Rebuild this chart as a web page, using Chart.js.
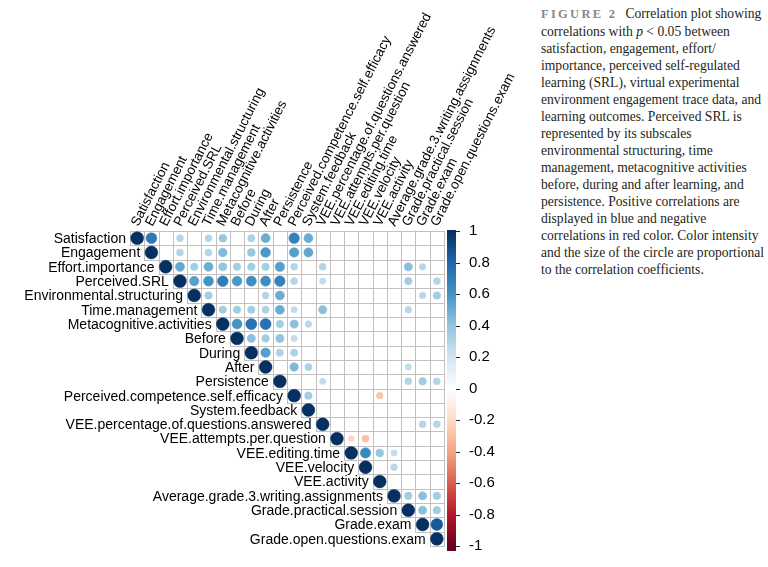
<!DOCTYPE html>
<html lang="en">
<head>
<meta charset="UTF-8">
<title>Correlation plot</title>
<script src="https://cdn.jsdelivr.net/npm/chart.js"></script>
<style>
  body { margin: 0; background: #fff; width: 768px; height: 567px; overflow: hidden; position: relative; }
  #chartBox { position: absolute; left: 0; top: 0; width: 530px; height: 567px; }
  .caption {
    position: absolute; left: 541px; top: 5px;
    font-family: "Liberation Serif", "Times New Roman", serif;
    font-size: 13.6px; line-height: 17px; color: #231f20; white-space: nowrap;
  }
  .fig { font-weight: bold; color: #87898c; letter-spacing: 2.3px; font-size: 12.5px; margin-right: 8px; }
</style>
</head>
<body>
<div id="chartBox"><canvas id="corrChart"></canvas></div>
<div class="caption">
  <span class="fig">FIGURE 2</span>Correlation plot showing<br>
  correlations with <i>p</i> &lt; 0.05 between<br>
  satisfaction, engagement, effort/<br>
  importance, perceived self-regulated<br>
  learning (SRL), virtual experimental<br>
  environment engagement trace data, and<br>
  learning outcomes. Perceived SRL is<br>
  represented by its subscales<br>
  environmental structuring, time<br>
  management, metacognitive activities<br>
  before, during and after learning, and<br>
  persistence. Positive correlations are<br>
  displayed in blue and negative<br>
  correlations in red color. Color intensity<br>
  and the size of the circle are proportional<br>
  to the correlation coefficients.
</div>
<script>
const variables = [
  "Satisfaction", "Engagement", "Effort.importance", "Perceived.SRL",
  "Environmental.structuring", "Time.management", "Metacognitive.activities",
  "Before", "During", "After", "Persistence", "Perceived.competence.self.efficacy",
  "System.feedback", "VEE.percentage.of.questions.answered", "VEE.attempts.per.question",
  "VEE.editing.time", "VEE.velocity", "VEE.activity", "Average.grade.3.writing.assignments",
  "Grade.practical.session", "Grade.exam", "Grade.open.questions.exam"
];

// upper triangle rows, one value per column; 0 = not significant (left blank)
const satisfaction   = [1, .72, 0, .3, 0, .3, .38, 0, .32, .5, 0, .68, .5, 0, 0, 0, 0, 0, 0, 0, 0, 0];
const engagement     = [0, 1, 0, .3, 0, .3, .45, 0, .38, .58, 0, .55, .52, 0, 0, 0, 0, 0, 0, 0, 0, 0];
const effort         = [0, 0, 1, .52, .35, .5, .4, .35, .35, .35, .55, .3, 0, .3, 0, 0, 0, 0, 0, .42, .28, 0];
const perceivedSRL   = [0, 0, 0, 1, .55, .6, .7, .58, .62, .62, .68, .3, 0, .25, 0, 0, 0, 0, 0, .35, 0, .3];
const envStructuring = [0, 0, 0, 0, 1, .35, 0, 0, 0, .3, .5, 0, 0, 0, 0, 0, 0, 0, 0, 0, .28, .35];
const timeManagement = [0, 0, 0, 0, 0, 1, .35, .35, .35, .32, .5, .25, 0, .42, 0, 0, 0, 0, 0, .28, 0, 0];
const metacognitive  = [0, 0, 0, 0, 0, 0, 1, .6, .75, .75, .35, .42, .28, 0, 0, 0, 0, 0, 0, 0, 0, 0];
const before         = [0, 0, 0, 0, 0, 0, 0, 1, .42, .35, .4, .25, 0, 0, 0, 0, 0, 0, 0, 0, 0, 0];
const during         = [0, 0, 0, 0, 0, 0, 0, 0, 1, .55, .32, .32, 0, 0, 0, 0, 0, 0, 0, 0, 0, 0];
const after          = [0, 0, 0, 0, 0, 0, 0, 0, 0, 1, 0, .45, .32, 0, 0, 0, 0, 0, 0, .25, 0, 0];
const persistence    = [0, 0, 0, 0, 0, 0, 0, 0, 0, 0, 1, 0, 0, .25, 0, 0, 0, 0, 0, .3, .35, .3];
const competence     = [0, 0, 0, 0, 0, 0, 0, 0, 0, 0, 0, 1, .35, 0, 0, 0, 0, -.28, 0, 0, 0, 0];
const systemFeedback = [0, 0, 0, 0, 0, 0, 0, 0, 0, 0, 0, 0, 1, 0, 0, 0, 0, 0, 0, 0, 0, 0];
const veePercentage  = [0, 0, 0, 0, 0, 0, 0, 0, 0, 0, 0, 0, 0, 1, 0, 0, 0, 0, 0, 0, .3, .3];
const veeAttempts    = [0, 0, 0, 0, 0, 0, 0, 0, 0, 0, 0, 0, 0, 0, 1, -.22, -.3, 0, 0, 0, 0, 0];
const veeEditing     = [0, 0, 0, 0, 0, 0, 0, 0, 0, 0, 0, 0, 0, 0, 0, 1, .65, .38, .25, 0, 0, 0];
const veeVelocity    = [0, 0, 0, 0, 0, 0, 0, 0, 0, 0, 0, 0, 0, 0, 0, 0, 1, 0, .28, 0, 0, 0];
const veeActivity    = [0, 0, 0, 0, 0, 0, 0, 0, 0, 0, 0, 0, 0, 0, 0, 0, 0, 1, 0, 0, 0, 0];
const avgGrade       = [0, 0, 0, 0, 0, 0, 0, 0, 0, 0, 0, 0, 0, 0, 0, 0, 0, 0, 1, .35, .42, .35];
const gradePractical = [0, 0, 0, 0, 0, 0, 0, 0, 0, 0, 0, 0, 0, 0, 0, 0, 0, 0, 0, 1, .42, .35];
const gradeExam      = [0, 0, 0, 0, 0, 0, 0, 0, 0, 0, 0, 0, 0, 0, 0, 0, 0, 0, 0, 0, 1, .85];
const gradeOpen      = [0, 0, 0, 0, 0, 0, 0, 0, 0, 0, 0, 0, 0, 0, 0, 0, 0, 0, 0, 0, 0, 1];

const colorbarTicks = [1, 0.8, 0.6, 0.4, 0.2, 0, -0.2, -0.4, -0.6, -0.8, -1];
const rdbu = ["#67001F", "#B2182B", "#D6604D", "#F4A582", "#FDDBC7", "#FFFFFF",
              "#D1E5F0", "#92C5DE", "#4393C3", "#2166AC", "#053061"];

const corrRows = [satisfaction, engagement, effort, perceivedSRL, envStructuring,
  timeManagement, metacognitive, before, during, after, persistence, competence,
  systemFeedback, veePercentage, veeAttempts, veeEditing, veeVelocity, veeActivity,
  avgGrade, gradePractical, gradeExam, gradeOpen];

function hexToRgb(h) {
  return [1, 3, 5].map(k => parseInt(h.slice(k, k + 2), 16));
}

function corrColor(v) {
  const t = (v + 1) / 2 * (rdbu.length - 1);
  const i = Math.min(Math.floor(t), rdbu.length - 2);
  const f = t - i;
  const a = hexToRgb(rdbu[i]), b = hexToRgb(rdbu[i + 1]);
  const c = a.map((x, k) => Math.round(x + (b[k] - x) * f));
  return `rgb(${c[0]},${c[1]},${c[2]})`;
}

const points = [];
corrRows.forEach((row, i) => {
  row.forEach((v, j) => {
    if (j >= i && v !== 0) points.push({ x: j, y: i, v: v });
  });
});

const labelFont = '14px "Liberation Sans", Arial, sans-serif';
const colLabelFont = '13.5px "Liberation Sans", Arial, sans-serif';
const labelAngle = 63 * Math.PI / 180;

// grid of the upper triangle, row/column labels and the colour bar
const corrDecor = {
  id: "corrDecor",
  beforeDatasetsDraw(chart) {
    const { ctx, chartArea, scales: { x, y } } = chart;
    ctx.save();
    ctx.strokeStyle = "#c4c0c0";
    ctx.lineWidth = 1;
    for (let i = 0; i < variables.length; i++) {
      for (let j = i; j < variables.length; j++) {
        const x0 = Math.round(x.getPixelForValue(j - 0.5)) + 0.5;
        const x1 = Math.round(x.getPixelForValue(j + 0.5)) + 0.5;
        const y0 = Math.round(y.getPixelForValue(i - 0.5)) + 0.5;
        const y1 = Math.round(y.getPixelForValue(i + 0.5)) + 0.5;
        ctx.strokeRect(x0, y0, x1 - x0, y1 - y0);
      }
    }
    ctx.fillStyle = "#000";
    ctx.font = labelFont;
    ctx.textAlign = "right";
    ctx.textBaseline = "middle";
    variables.forEach((name, i) => {
      ctx.fillText(name, x.getPixelForValue(i - 0.5) - 4, y.getPixelForValue(i) + 1);
    });
    ctx.font = colLabelFont;
    ctx.textAlign = "left";
    ctx.textBaseline = "alphabetic";
    variables.forEach((name, j) => {
      ctx.save();
      ctx.translate(x.getPixelForValue(j) + 1, chartArea.top - 4);
      ctx.rotate(-labelAngle);
      ctx.fillText(name, 0, 0);
      ctx.restore();
    });
    ctx.restore();
  },
  afterDraw(chart) {
    const { ctx, scales: { cb } } = chart;
    const top = cb.getPixelForValue(1) - 1;
    const bottom = cb.getPixelForValue(-1) + 5;
    const left = cb.left + 3;
    const w = 9;
    ctx.save();
    const grad = ctx.createLinearGradient(0, cb.getPixelForValue(-1), 0, cb.getPixelForValue(1));
    rdbu.forEach((c, k) => grad.addColorStop(k / (rdbu.length - 1), c));
    ctx.fillStyle = grad;
    ctx.fillRect(left, top, w, bottom - top);
    ctx.strokeStyle = "#222";
    ctx.lineWidth = 1;
    colorbarTicks.forEach(v => {
      const py = Math.round(cb.getPixelForValue(v)) + 0.5;
      ctx.beginPath();
      ctx.moveTo(left + w, py);
      ctx.lineTo(left + w + 4, py);
      ctx.stroke();
    });
    ctx.restore();
  }
};

function circleRadius(c) {
  if (!c.raw) return 0;
  const s = c.chart.scales.x;
  const cell = Math.abs(s.getPixelForValue(1) - s.getPixelForValue(0));
  return 0.45 * cell * Math.sqrt(Math.abs(c.raw.v));
}

new Chart(document.getElementById("corrChart"), {
  type: "scatter",
  data: {
    datasets: [{
      data: points,
      showLine: false,
      pointBackgroundColor: c => c.raw ? corrColor(c.raw.v) : "#000",
      pointBorderColor: c => c.raw ? corrColor(c.raw.v) : "#000",
      pointBorderWidth: 0.5,
      pointRadius: circleRadius,
      pointHoverRadius: circleRadius
    }]
  },
  options: {
    responsive: true,
    maintainAspectRatio: false,
    animation: false,
    events: [],
    layout: { padding: { left: 130, top: 231, right: 0, bottom: 21 } },
    plugins: { legend: { display: false }, tooltip: { enabled: false } },
    scales: {
      x: {
        type: "linear",
        display: false,
        min: -0.5,
        max: variables.length - 0.5
      },
      y: {
        type: "linear",
        display: false,
        reverse: true,
        min: -0.5,
        max: variables.length - 0.5
      },
      cb: {
        type: "linear",
        axis: "y",
        position: "right",
        min: -1,
        max: 1,
        grid: { display: false },
        border: { display: false },
        afterBuildTicks: s => { s.ticks = colorbarTicks.map(v => ({ value: v })); },
        afterFit: s => { s.width = 86; s.paddingTop = 0; s.paddingBottom = 0; },
        ticks: {
          padding: 17,
          color: "#000",
          font: { family: '"Liberation Sans", Arial, sans-serif', size: 15 },
          callback: v => String(Math.round(v * 10) / 10)
        }
      }
    }
  },
  plugins: [corrDecor]
});
</script>
</body>
</html>
